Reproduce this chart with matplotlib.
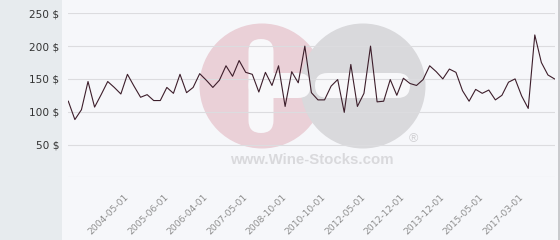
import numpy as np
import matplotlib
matplotlib.use("Agg")
import matplotlib.pyplot as plt
from matplotlib.patches import Rectangle, Circle, FancyBboxPatch
from matplotlib.transforms import IdentityTransform

# prices per sale (in $)
prices = [116, 88, 103, 146, 107, 126, 146, 137, 127, 157,
          139, 122, 126, 117, 117, 137, 128, 157, 129, 137,
          158, 148, 137, 148, 170, 154, 178, 160, 157, 130,
          160, 140, 170, 108, 161, 144, 200, 129, 118, 118,
          139, 149, 99, 172, 108, 128, 200, 115, 116, 149,
          125, 151, 143, 140, 149, 170, 161, 150, 165, 160,
          132, 116, 134, 128, 133, 118, 125, 145, 150, 124,
          105, 217, 175, 156, 150]
tick_labels = ["2004-05-01", "2005-06-01", "2006-04-01", "2007-05-01",
               "2008-10-01", "2010-10-01", "2012-05-01", "2012-12-01",
               "2013-12-01", "2015-05-01", "2017-03-01"]
label_first = 9
label_step = 6
y_ticks = [0, 50, 100, 150, 200, 250]

W, H = 560, 240
fig = plt.figure(figsize=(W / 100, H / 100), dpi=100)
fig.patch.set_facecolor("#f6f7fa")

# left panel + right border
fig.patches.append(Rectangle((0, 0), 62 / W, 1, transform=fig.transFigure,
                             facecolor="#e7ebee", edgecolor="none", zorder=-5))
fig.patches.append(Rectangle((558 / W, 0), 2 / W, 1, transform=fig.transFigure,
                             facecolor="#c9cacd", edgecolor="none", zorder=-5))

# watermark (pixel coords, y from bottom)
ident = IdentityTransform()
def wm(p):
    p.set_transform(ident)
    p.set_zorder(-4)
    fig.patches.append(p)

wm(Circle((262, H - 86), 62.5, facecolor="#ead0d7", edgecolor="none"))
wm(Circle((363, H - 86), 62.5, facecolor="#d9d9dc", edgecolor="none"))
wm(FancyBboxPatch((248.5, H - 133), 25, 94, boxstyle="round,pad=0,rounding_size=12.5",
                  facecolor="#f8f8fa", edgecolor="none"))
wm(FancyBboxPatch((248.5, H - 98), 62, 25, boxstyle="round,pad=0,rounding_size=12.5",
                  facecolor="#f8f8fa", edgecolor="none"))
wm(FancyBboxPatch((315, H - 98), 95, 25, boxstyle="round,pad=0,rounding_size=12.5",
                  facecolor="#f8f8fa", edgecolor="none"))
fig.text(312 / W, 1 - 160.5 / H, "www.Wine-Stocks.com", family="Liberation Sans",
         weight="bold", fontsize=10.8, color="#d9d9dc", ha="center", va="center", zorder=-3)
fig.text(413 / W, 1 - 139 / H, "®", family="Liberation Sans", fontsize=9,
         color="#cfcfd2", ha="center", va="center", zorder=-3)

# plot
x0, x1 = 68.3, 554.5
ytop, ybot = 13.3, 177.3
ax = fig.add_axes([x0 / W, 1 - ybot / H, (x1 - x0) / W, (ybot - ytop) / H])
ax.set_facecolor("none")
x = np.arange(len(prices))
ax.plot(x, prices, color="#3d1e2b", lw=0.8, zorder=3)
ax.set_xlim(0, len(prices) - 1)
ax.set_ylim(0, 250)

for s in ax.spines.values():
    s.set_visible(False)

ax.set_yticks(y_ticks)
ax.set_yticklabels(["" if v == 0 else f"{v} $" for v in y_ticks],
                   fontsize=7.6, color="#333333")
ax.tick_params(axis="y", length=0, pad=6.5)
ax.grid(axis="y", color="#dcdcdf", lw=0.8, zorder=1)

ax.set_xticks(label_first + label_step * np.arange(len(tick_labels)))
ax.set_xticklabels(tick_labels, rotation=45, ha="right", va="center",
                   rotation_mode="anchor", fontsize=6.6, color="#8e8e8e")
ax.tick_params(axis="x", length=0, pad=13)

fig.savefig("out.png", dpi=100, facecolor=fig.get_facecolor())
